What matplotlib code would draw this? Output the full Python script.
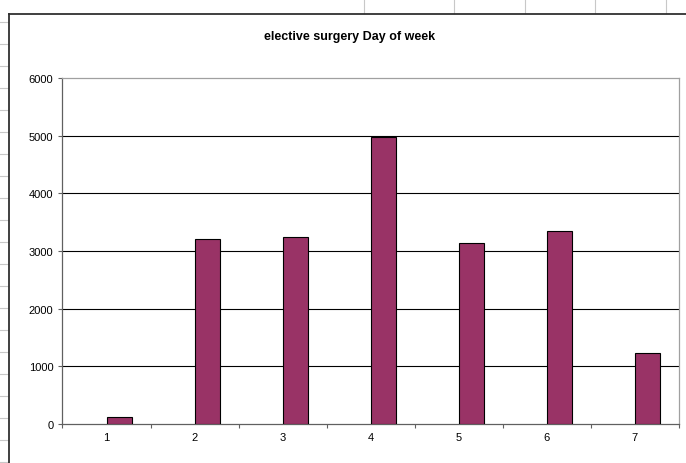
import matplotlib.pyplot as plt
from matplotlib.lines import Line2D

# elective surgery counts by day of week
days = [1, 2, 3, 4, 5, 6, 7]
day_labels = ['1', '2', '3', '4', '5', '6', '7']
surgeries = [110, 3200, 3250, 4985, 3140, 3350, 1230]
y_ticks = [0, 1000, 2000, 3000, 4000, 5000, 6000]

W, H = 686, 464
fig = plt.figure(figsize=(W / 100, H / 100), dpi=100)
fig.patch.set_facecolor('white')
plt.rcParams['font.family'] = ['Liberation Sans', 'DejaVu Sans']


def px(x, y):
    # pixel position (from top-left) to figure fraction
    return x / W, 1 - y / H


# worksheet cell lines around the chart object
grid_c = '#c8c8c8'
for yy in range(22, H, 22):
    x0, y0 = px(0, yy + 0.5)
    x1, _ = px(8, yy)
    fig.add_artist(Line2D([x0, x1], [y0, y0], color=grid_c, lw=0.8))
for xx in [364, 453, 524, 594, 665]:
    x0, y0 = px(xx + 0.5, 0)
    _, y1 = px(xx, 14)
    fig.add_artist(Line2D([x0, x0], [y0, y1], color=grid_c, lw=0.8))

# chart area border
bx, by = px(8.5, 14.5)
fig.add_artist(Line2D([bx, 1], [by, by], color='#303030', lw=1.3))
fig.add_artist(Line2D([bx, bx], [by, 0], color='#303030', lw=1.3))

# plot area
left, right, top, bottom = 62.5, 679, 79.3, 424.7
ax = fig.add_axes([left / W, (H - bottom) / H, (right - left) / W, (bottom - top) / H])

bar_w = 1 / 3.5
ax.bar(days, surgeries, width=bar_w, align='edge', color='#993366',
       edgecolor='black', linewidth=0.8, zorder=3)

ax.set_xlim(0.5, 7.5)
ax.set_ylim(0, 6000)
ax.set_yticks(y_ticks)
ax.tick_params(axis='y', direction='out', length=3, width=0.8, color='#606060',
               labelsize=8, pad=3.5)

# category boundaries get tick marks, labels sit in the middle
ax.set_xticks([d + 0.5 for d in [0] + days])
ax.set_xticklabels([])
ax.tick_params(axis='x', which='major', direction='out', length=3, width=0.8, color='#606060')
ax.set_xticks(days, minor=True)
ax.set_xticklabels(day_labels, minor=True)
ax.tick_params(axis='x', which='minor', length=0, labelsize=8, pad=6)

for v in y_ticks[1:-1]:
    ax.axhline(v, color='black', lw=0.8, zorder=1)

ax.spines['left'].set_color('#606060')
ax.spines['bottom'].set_color('#606060')
ax.spines['top'].set_color('#a0a0a0')
ax.spines['right'].set_color('#a0a0a0')
for s in ax.spines.values():
    s.set_linewidth(0.9)

tx, ty = px(350, 37)
fig.text(tx, ty, 'elective surgery Day of week', ha='center', va='center',
         fontsize=9, fontweight='bold')

fig.savefig('out.png', dpi=100)
